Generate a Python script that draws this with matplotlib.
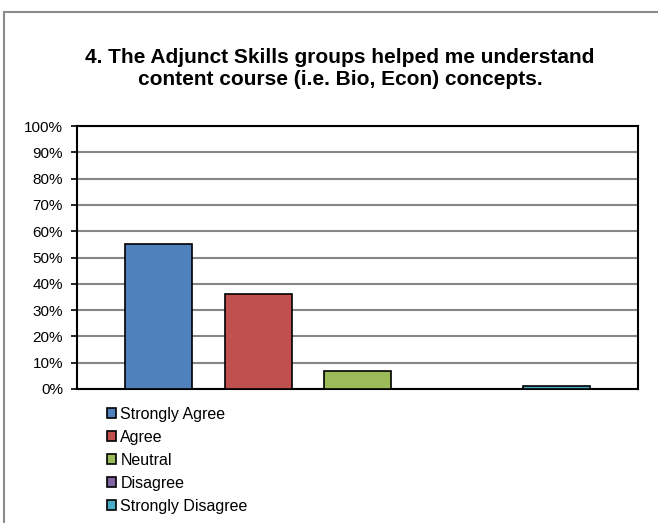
import matplotlib
matplotlib.use("Agg")
import matplotlib.pyplot as plt
from matplotlib.patches import Rectangle
from matplotlib.ticker import PercentFormatter

plt.rcParams['font.family'] = ['Liberation Sans', 'DejaVu Sans']

title = "4. The Adjunct Skills groups helped me understand\ncontent course (i.e. Bio, Econ) concepts."
categories = ["Strongly Agree", "Agree", "Neutral", "Disagree", "Strongly Disagree"]
values = [55, 36, 7, 0, 1]
colors = ["#4F81BD", "#C0504D", "#9BBB59", "#8064A2", "#4BACC6"]
yticks = [0, 10, 20, 30, 40, 50, 60, 70, 80, 90, 100]

W, H = 658, 523
fig = plt.figure(figsize=(W / 100, H / 100), dpi=100)

# outer chart border (clipped at right and bottom)
fig.patches.append(Rectangle((4 / W, -0.05), 1.2, (H - 12) / H + 0.05,
                             transform=fig.transFigure, fill=False,
                             edgecolor="#8c8c8c", linewidth=1.5))

ax = fig.add_axes([77 / W, (H - 389) / H, (638 - 77) / W, (389 - 126) / H])

bars = []
for i, (cat, v, c) in enumerate(zip(categories, values, colors)):
    b = ax.bar(i, v, width=0.673, color=c, edgecolor="black", linewidth=1.2,
               label=cat, zorder=3)
    bars.append(b)

ax.set_xlim(-0.824, 4.816)
ax.set_ylim(0, 100)
ax.set_yticks(yticks)
ax.yaxis.set_major_formatter(PercentFormatter(decimals=0))
ax.set_xticks([])
ax.yaxis.grid(True, color="#868686", linewidth=1.5, zorder=0)
ax.set_axisbelow(True)
for s in ax.spines.values():
    s.set_color("black")
    s.set_linewidth(1.5)
ax.tick_params(axis="y", direction="out", length=4, width=1.2, labelsize=11,
               pad=6, colors="black")

fig.text(340 / W, (H - 85) / H, title, ha="center", va="baseline", fontsize=15,
         fontweight="bold", linespacing=1.2, multialignment="center")

leg = fig.legend(handles=[b[0] for b in bars], labels=categories,
                 loc="upper left", bbox_to_anchor=(107 / W, (H - 407) / H),
                 frameon=False, fontsize=11.5, handlelength=0.58, handleheight=0.58,
                 handletextpad=0.25, labelspacing=0.5, borderpad=0,
                 borderaxespad=0)

fig.savefig("out.png", dpi=100)
